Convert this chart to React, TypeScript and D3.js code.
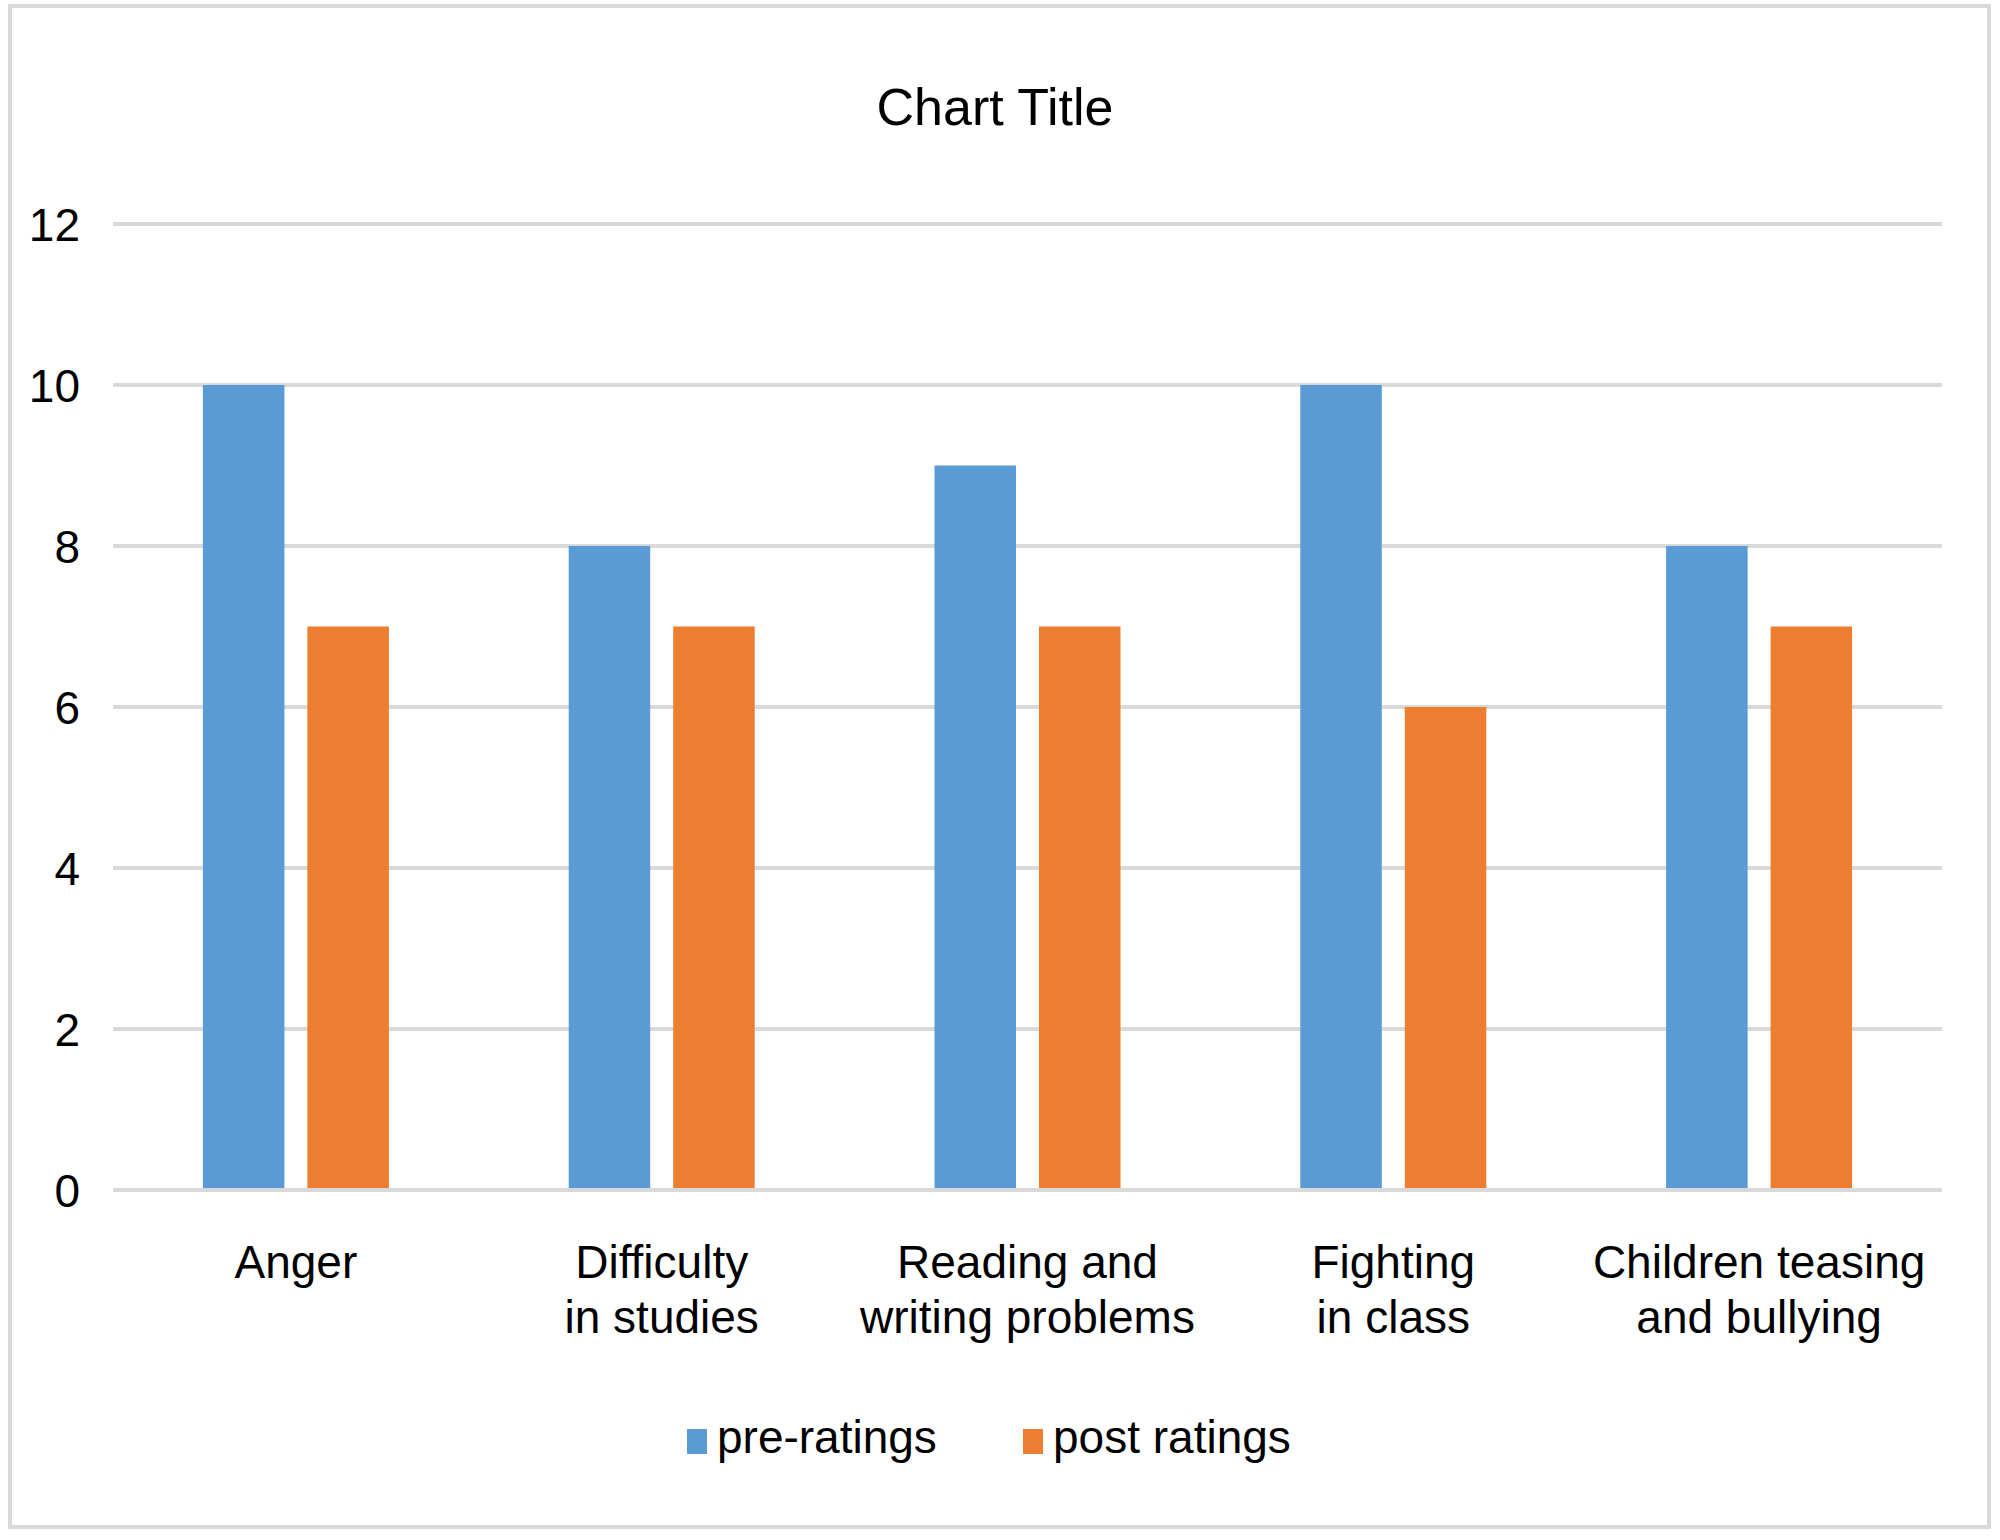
import React from "react";
import * as d3 from "d3";

const categories: string[][] = [
  ["Anger"],
  ["Difficulty", "in studies"],
  ["Reading and", "writing problems"],
  ["Fighting", "in class"],
  ["Children teasing", "and bullying"],
];
const seriesNames = ["pre-ratings", "post ratings"];
const preRatings = [10, 8, 9, 10, 8];
const postRatings = [7, 7, 7, 6, 7];
const yTicks = [0, 2, 4, 6, 8, 10, 12];
const colors = ["#5B9BD5", "#ED7D31"];

const W = 2000;
const H = 1540;
const FONT = "'Liberation Sans', Arial, Helvetica, sans-serif";

export default function App() {
  const plotLeft = 113;
  const plotRight = 1942;
  const plotTop = 224;
  const plotBottom = 1190;

  const x0 = d3
    .scaleBand<number>()
    .domain(d3.range(categories.length))
    .range([plotLeft, plotRight])
    .padding(0);
  const y = d3.scaleLinear().domain([0, 12]).range([plotBottom, plotTop]);
  const groupHalf = 93;
  const values = [preRatings, postRatings];

  return (
    <svg
      width={W}
      height={H}
      style={{ position: "absolute", left: 0, top: 0, background: "#fff" }}
      fontFamily={FONT}
    >
      <rect x={0} y={0} width={W} height={H} fill="#fff" />
      <rect x={10} y={6} width={1979} height={1521} fill="#fff" stroke="#D9D9D9" strokeWidth={4} />
      <text x={995} y={125} textAnchor="middle" fontSize={52} fill="#000">
        Chart Title
      </text>
      {yTicks.map((t) => (
        <g key={t}>
          <line x1={plotLeft} x2={plotRight} y1={y(t)} y2={y(t)} stroke="#D9D9D9" strokeWidth={4} />
          <text x={80} y={y(t) + 17} textAnchor="end" fontSize={46} fill="#000">
            {t}
          </text>
        </g>
      ))}
      {categories.map((lines, i) => {
        const c = (x0(i) as number) + x0.bandwidth() / 2;
        const x1 = d3
          .scaleBand<number>()
          .domain([0, 1])
          .range([c - groupHalf, c + groupHalf])
          .paddingInner(0.22)
          .paddingOuter(0);
        return (
          <g key={i}>
            {values.map((vals, s) => (
              <rect
                key={s}
                x={x1(s)}
                y={y(vals[i])}
                width={x1.bandwidth()}
                height={y(0) - y(vals[i]) - 2}
                fill={colors[s]}
              />
            ))}
            {lines.map((ln, k) => (
              <text key={k} x={c} y={1278 + k * 55} textAnchor="middle" fontSize={46} fill="#000">
                {ln}
              </text>
            ))}
          </g>
        );
      })}
      {seriesNames.map((name, s) => {
        const lx = [687, 1023][s];
        return (
          <g key={name}>
            <rect x={lx} y={1429} width={20} height={25} fill={colors[s]} />
            <text x={lx + 30} y={1453} fontSize={46} fill="#000">
              {name}
            </text>
          </g>
        );
      })}
    </svg>
  );
}
